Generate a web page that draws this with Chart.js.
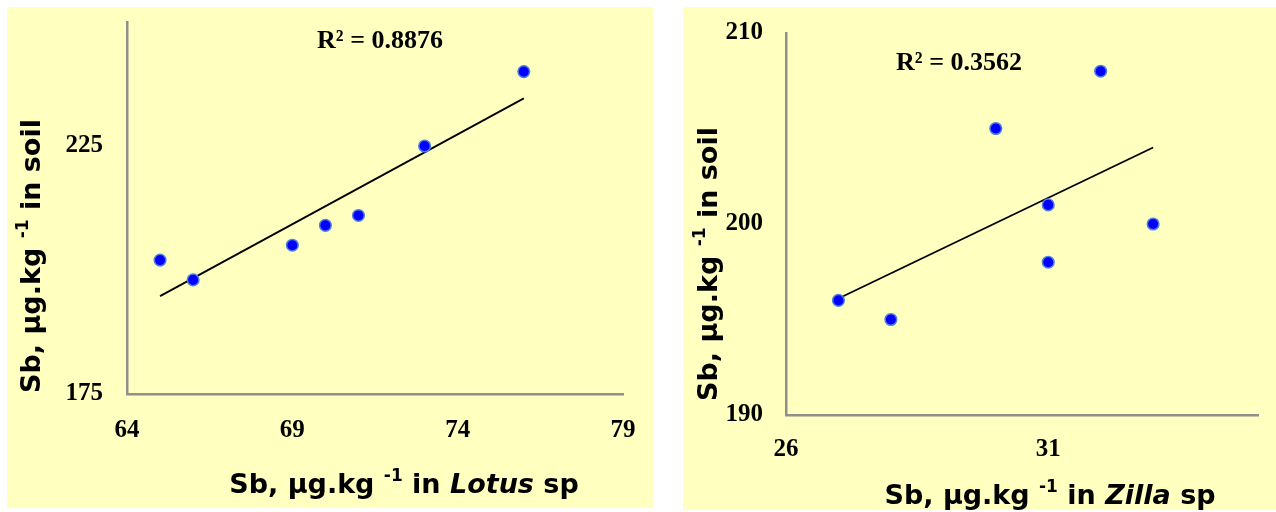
<!DOCTYPE html>
<html><head><meta charset="utf-8">
<script src="https://cdn.jsdelivr.net/npm/chart.js@4.4.1/dist/chart.umd.min.js"></script>
<style>
html,body{margin:0;padding:0;background:#fff;width:1276px;height:512px;overflow:hidden}
.panel{position:absolute;background:#FFFFC0}
#p1{left:7px;top:7px;width:646px;height:501px}
#p2{left:683px;top:7px;width:593px;height:503px}
canvas{display:block}
</style></head><body>
<div class="panel" id="p1"><canvas id="c1"></canvas></div>
<div class="panel" id="p2"><canvas id="c2"></canvas></div>
<script>
// ---- data ----
const lotusX = [65, 66, 69, 70, 71, 73, 76];
const lotusSoilY = [202, 198, 205, 209, 211, 225, 240];
const lotusXTicks = [64, 69, 74, 79];
const lotusYTicks = [175, 225];
const lotusR2Label = 'R\u00B2 = 0.8876';

const zillaX = [27, 28, 30, 31, 31, 32, 33];
const zillaSoilY = [196, 195, 205, 201, 198, 208, 200];
const zillaXTicks = [26, 31];
const zillaYTicks = [190, 200, 210];
const zillaR2Label = 'R\u00B2 = 0.3562';

const yTitleParts = [{t: 'Sb, \u00B5g.kg '}, {t: '-1', sup: true}, {t: ' in soil'}];
const lotusXTitleParts = [{t: 'Sb, \u00B5g.kg '}, {t: '-1', sup: true}, {t: ' in '}, {t: 'Lotus', it: true}, {t: ' sp'}];
const zillaXTitleParts = [{t: 'Sb, \u00B5g.kg '}, {t: '-1', sup: true}, {t: ' in '}, {t: 'Zilla', it: true}, {t: ' sp'}];

// ---- helpers ----
function linFit(xs, ys) {
  const n = xs.length;
  const mx = xs.reduce((a, b) => a + b, 0) / n;
  const my = ys.reduce((a, b) => a + b, 0) / n;
  let sxy = 0, sxx = 0;
  for (let i = 0; i < n; i++) { sxy += (xs[i] - mx) * (ys[i] - my); sxx += (xs[i] - mx) ** 2; }
  const b = sxy / sxx, a = my - b * mx;
  const x0 = Math.min(...xs), x1 = Math.max(...xs);
  return [{x: x0, y: a + b * x0}, {x: x1, y: a + b * x1}];
}

const TITLE_FAMILY = '"DejaVu Sans", Verdana, sans-serif';
function fontStr(p, size) {
  return (p.it ? 'italic ' : '') + 'bold ' + (p.sup ? Math.round(size * 0.62) : size) + 'px ' + TITLE_FAMILY;
}
function drawRich(ctx, parts, cx, cy, rot, size) {
  ctx.save();
  ctx.translate(cx, cy);
  if (rot) ctx.rotate(rot);
  let w = 0;
  parts.forEach(p => { ctx.font = fontStr(p, size); p._w = ctx.measureText(p.t).width; w += p._w; });
  let x = -w / 2;
  ctx.fillStyle = '#000';
  ctx.textBaseline = 'alphabetic';
  parts.forEach(p => {
    ctx.font = fontStr(p, size);
    ctx.fillText(p.t, x, size * 0.36 - (p.sup ? size * 0.42 : 0));
    x += p._w;
  });
  ctx.restore();
}

const richTextPlugin = {
  id: 'richText',
  afterDraw(chart, args, opts) {
    const ctx = chart.ctx;
    drawRich(ctx, opts.xTitle, opts.xTitlePos[0], opts.xTitlePos[1], 0, opts.titleSize);
    drawRich(ctx, opts.yTitle, opts.yTitlePos[0], opts.yTitlePos[1], -Math.PI / 2, opts.titleSize);
    ctx.save();
    ctx.font = 'bold ' + opts.r2Size + 'px "Liberation Serif", "Times New Roman", serif';
    ctx.fillStyle = '#000';
    ctx.textAlign = 'center';
    ctx.textBaseline = 'middle';
    ctx.fillText(opts.r2, opts.r2Pos[0], opts.r2Pos[1]);
    ctx.restore();
  }
};

function makeChart(id, xs, ys, xr, yr, xTicks, yTicks, cfg) {
  const pts = xs.map((x, i) => ({x: x, y: ys[i]}));
  const tickFont = {family: '"Liberation Serif", "Times New Roman", serif', size: 25, weight: 'bold'};
  const axisBorder = {display: true, color: '#8f8f8f', width: 2.5};
  return new Chart(document.getElementById(id), {
    type: 'scatter',
    data: {
      datasets: [
        {data: pts, pointRadius: 5.8, pointHoverRadius: 5.8, backgroundColor: '#0000ff', borderColor: '#4d7fe0', borderWidth: 1.5},
        {type: 'line', data: linFit(xs, ys), borderColor: '#000', borderWidth: 1.8, pointRadius: 0, fill: false, showLine: true}
      ]
    },
    options: {
      responsive: true,
      maintainAspectRatio: false,
      animation: false,
      events: [],
      layout: {padding: cfg.padding},
      plugins: {
        legend: {display: false},
        tooltip: {enabled: false},
        richText: cfg.rich
      },
      scales: {
        x: {
          type: 'linear', min: xr[0], max: xr[1],
          afterBuildTicks: s => { s.ticks = xTicks.map(v => ({value: v})); },
          afterFit: s => { s.height = cfg.xAxisH; s.paddingLeft = 0; s.paddingRight = 0; },
          grid: {display: false, drawTicks: false},
          border: axisBorder,
          ticks: {color: '#000', font: tickFont, padding: cfg.xPad, maxRotation: 0, autoSkip: false}
        },
        y: {
          type: 'linear', min: yr[0], max: yr[1],
          afterBuildTicks: s => { s.ticks = yTicks.map(v => ({value: v})); },
          afterFit: s => { s.width = cfg.yAxisW; s.paddingTop = 0; s.paddingBottom = 0; },
          grid: {display: false, drawTicks: false},
          border: axisBorder,
          ticks: {color: '#000', font: tickFont, padding: cfg.yPad, autoSkip: false}
        }
      }
    },
    plugins: [richTextPlugin]
  });
}

makeChart('c1', lotusX, lotusSoilY, [64, 79], [175, 250], lotusXTicks, lotusYTicks, {
  padding: {top: 15, right: 30, left: 0, bottom: 0},
  xAxisH: 114, yAxisW: 120, xPad: 22, yPad: 24,
  rich: {xTitle: lotusXTitleParts, yTitle: yTitleParts, xTitlePos: [397, 476], yTitlePos: [23, 249],
         titleSize: 27, r2: lotusR2Label, r2Pos: [373, 34], r2Size: 26}
});
makeChart('c2', zillaX, zillaSoilY, [26, 35], [190, 210], zillaXTicks, zillaYTicks, {
  padding: {top: 26, right: 18, left: 0, bottom: 0},
  xAxisH: 95, yAxisW: 103, xPad: 20, yPad: 23,
  rich: {xTitle: zillaXTitleParts, yTitle: yTitleParts, xTitlePos: [367, 487], yTitlePos: [24, 257],
         titleSize: 27, r2: zillaR2Label, r2Pos: [276, 56], r2Size: 26}
});
</script>
</body></html>
